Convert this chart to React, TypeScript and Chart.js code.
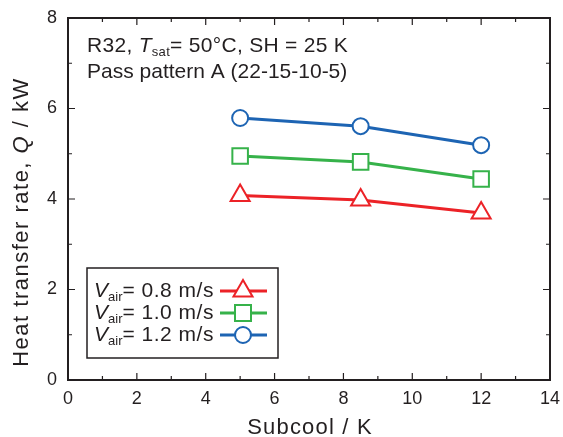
import React, { useEffect, useRef } from 'react';
import { Chart, registerables } from 'chart.js';
Chart.register(...registerables);

const subcool = [5, 8.5, 12];
const q08 = [4.08, 3.98, 3.69];
const q10 = [4.95, 4.82, 4.44];
const q12 = [5.79, 5.61, 5.19];
const speeds = ['0.8', '1.0', '1.2'];
const colors = ['#EC2227', '#36B24A', '#1D64B3'];
const styles = ['triangle', 'rect', 'circle'];
const radii = [11, 11, 8];
const annotation1 = ['R32, ', 'T', 'sat', '= 50°C, SH = 25 K'];
const annotation2 = 'Pass pattern A (22-15-10-5)';
const xTitle = 'Subcool / K';
const yTitleParts = ['Heat transfer rate, ', 'Q', ' / kW'];

const FONT = '"Liberation Sans", Arial, sans-serif';
const INK = '#231f20';

function drawMarker(ctx: CanvasRenderingContext2D, style: string, x: number, y: number, color: string) {
  ctx.save();
  ctx.fillStyle = '#fff';
  ctx.strokeStyle = color;
  ctx.lineWidth = 2;
  ctx.beginPath();
  if (style === 'circle') {
    ctx.arc(x, y, 8, 0, Math.PI * 2);
  } else if (style === 'rect') {
    ctx.rect(x - 8, y - 8, 16, 16);
  } else {
    const r = 11;
    ctx.moveTo(x, y - r);
    ctx.lineTo(x + r * Math.sin(Math.PI / 3), y + r / 2);
    ctx.lineTo(x - r * Math.sin(Math.PI / 3), y + r / 2);
    ctx.closePath();
  }
  ctx.fill();
  ctx.stroke();
  ctx.restore();
}

function setSpacing(ctx: any, v: string) {
  if ('letterSpacing' in ctx) ctx.letterSpacing = v;
}

const decor = {
  id: 'decor',
  afterDraw(chart: any) {
    const ctx: CanvasRenderingContext2D = chart.ctx;
    const a = chart.chartArea;
    const xs = chart.scales.x;
    const ys = chart.scales.y;
    ctx.save();
    // frame
    ctx.strokeStyle = INK;
    ctx.lineWidth = 2;
    ctx.strokeRect(a.left, a.top, a.right - a.left, a.bottom - a.top);
    // inward ticks
    ctx.lineWidth = 1.2;
    ctx.beginPath();
    xs.ticks.forEach((t: any) => {
      const px = xs.getPixelForValue(t.value);
      const len = t.value % 2 === 0 ? 7 : 4;
      ctx.moveTo(px, a.bottom); ctx.lineTo(px, a.bottom - len);
      ctx.moveTo(px, a.top); ctx.lineTo(px, a.top + len);
    });
    ys.ticks.forEach((t: any) => {
      const py = ys.getPixelForValue(t.value);
      const len = t.value % 2 === 0 ? 7 : 4;
      ctx.moveTo(a.left, py); ctx.lineTo(a.left + len, py);
      ctx.moveTo(a.right, py); ctx.lineTo(a.right - len, py);
    });
    ctx.stroke();

    // annotation
    ctx.fillStyle = INK;
    ctx.textBaseline = 'alphabetic';
    ctx.textAlign = 'left';
    setSpacing(ctx, '0.3px');
    let x = 87;
    const y1 = 52;
    ctx.font = `21px ${FONT}`;
    ctx.fillText(annotation1[0], x, y1); x += ctx.measureText(annotation1[0]).width;
    ctx.font = `italic 21px ${FONT}`;
    ctx.fillText(annotation1[1], x, y1); x += ctx.measureText(annotation1[1]).width;
    ctx.font = `13px ${FONT}`;
    ctx.fillText(annotation1[2], x, y1 + 4); x += ctx.measureText(annotation1[2]).width;
    ctx.font = `21px ${FONT}`;
    ctx.fillText(annotation1[3], x, y1);
    setSpacing(ctx, '0px');
    ctx.fillText(annotation2, 87, 78);

    // legend
    ctx.lineWidth = 1.5;
    ctx.strokeStyle = INK;
    ctx.strokeRect(87, 268, 191, 90);
    const rows = [291, 313, 335];
    speeds.forEach((s, i) => {
      const ry = rows[i];
      let lx = 94;
      ctx.fillStyle = INK;
      ctx.textBaseline = 'middle';
      setSpacing(ctx, '0px');
      ctx.font = `italic 21px ${FONT}`;
      ctx.fillText('V', lx, ry); lx += ctx.measureText('V').width;
      ctx.font = `13px ${FONT}`;
      ctx.fillText('air', lx, ry + 6); lx += ctx.measureText('air').width;
      ctx.font = `21px ${FONT}`;
      setSpacing(ctx, '0.5px');
      ctx.fillText(`= ${s} m/s`, lx, ry);
      setSpacing(ctx, '0px');
      ctx.strokeStyle = colors[i];
      ctx.lineWidth = 3;
      ctx.beginPath();
      ctx.moveTo(220, ry); ctx.lineTo(267, ry);
      ctx.stroke();
      drawMarker(ctx, styles[i], 243, ry, colors[i]);
    });

    // axis titles
    ctx.fillStyle = INK;
    ctx.textBaseline = 'alphabetic';
    ctx.textAlign = 'left';
    ctx.font = `22px ${FONT}`;
    setSpacing(ctx, '1.2px');
    const xw = ctx.measureText(xTitle).width;
    ctx.fillText(xTitle, 310 - xw / 2, 434);

    ctx.save();
    ctx.translate(28, 222);
    ctx.rotate(-Math.PI / 2);
    setSpacing(ctx, '1.5px');
    const fonts = [`22px ${FONT}`, `italic 22px ${FONT}`, `22px ${FONT}`];
    let total = 0;
    yTitleParts.forEach((p, i) => { ctx.font = fonts[i]; total += ctx.measureText(p).width; });
    let tx = -total / 2;
    yTitleParts.forEach((p, i) => { ctx.font = fonts[i]; ctx.fillText(p, tx, 0); tx += ctx.measureText(p).width; });
    ctx.restore();

    ctx.restore();
  },
};

export default function App() {
  const ref = useRef<HTMLCanvasElement | null>(null);
  useEffect(() => {
    document.body.style.margin = '0';
    const series = [q08, q10, q12];
    const chart = new Chart(ref.current!, {
      type: 'line',
      data: {
        datasets: series.map((vals, i) => ({
          label: `Vair = ${speeds[i]} m/s`,
          data: subcool.map((x, j) => ({ x, y: vals[j] })),
          borderColor: colors[i],
          borderWidth: 3,
          pointStyle: styles[i] as any,
          pointRadius: radii[i],
          pointBorderWidth: 2,
          pointBackgroundColor: '#fff',
          pointBorderColor: colors[i],
          tension: 0,
        })),
      },
      options: {
        animation: false,
        responsive: false,
        layout: { padding: { top: 18, right: 12, left: 0, bottom: 0 } },
        plugins: { legend: { display: false }, tooltip: { enabled: false } },
        scales: {
          x: {
            type: 'linear',
            min: 0,
            max: 14,
            grid: { display: false, drawTicks: false },
            border: { display: false },
            ticks: {
              stepSize: 1,
              autoSkip: false,
              maxRotation: 0,
              padding: 8,
              color: INK,
              font: { family: FONT, size: 18 },
              callback: (v: any) => (Number(v) % 2 === 0 ? String(v) : ''),
            },
            afterFit: (s: any) => {
              s.height = 57;
              s.paddingLeft = 0; s.paddingRight = 0; s.paddingTop = 0; s.paddingBottom = 0;
            },
          },
          y: {
            min: 0,
            max: 8,
            grid: { display: false, drawTicks: false },
            border: { display: false },
            ticks: {
              stepSize: 1,
              autoSkip: false,
              padding: 11,
              color: INK,
              font: { family: FONT, size: 18 },
              callback: (v: any) => (Number(v) % 2 === 0 ? String(v) : ''),
            },
            afterFit: (s: any) => {
              s.width = 68;
              s.paddingLeft = 0; s.paddingRight = 0; s.paddingTop = 0; s.paddingBottom = 0;
            },
          },
        },
      },
      plugins: [decor],
    });
    return () => chart.destroy();
  }, []);
  return <canvas ref={ref} width={563} height={437} style={{ display: 'block' }} />;
}
